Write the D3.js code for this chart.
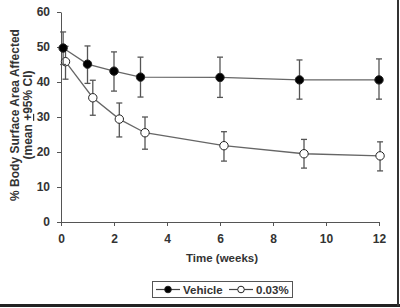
<!DOCTYPE html>
<html>
<head>
<meta charset="utf-8">
<script src="https://cdn.jsdelivr.net/npm/d3@7"></script>
<style>
  body { margin: 0; background: #fff; }
  svg { display: block; font-family: "Liberation Sans", Arial, sans-serif; }
  .axis text { font-weight: bold; font-size: 12px; fill: #333; }
  .axis path, .axis line { stroke: #555; }
</style>
</head>
<body>
<div id="chart"></div>
<script>
// values
const vehicleWeeks = [0.08, 1, 2, 3, 6, 9, 12];
const vehicleMean  = [49.7, 45.1, 43.1, 41.4, 41.3, 40.6, 40.6];
const vehicleHi    = [54.3, 50.3, 48.6, 47.1, 47.1, 46.3, 46.6];
const vehicleLo    = [45.0, 39.6, 37.4, 35.7, 35.6, 35.1, 35.1];

const treatWeeks = [0.17, 1.2, 2.2, 3.17, 6.15, 9.17, 12.04];
const treatMean  = [45.8, 35.5, 29.4, 25.5, 21.8, 19.5, 18.9];
const treatHi    = [50.2, 40.5, 34.0, 30.0, 25.8, 23.6, 22.9];
const treatLo    = [40.8, 30.5, 24.3, 20.8, 17.4, 15.4, 14.6];

const xTicks = [0, 2, 4, 6, 8, 10, 12];
const yTicks = [0, 10, 20, 30, 40, 50, 60];

const W = 400, H = 308;
let margin = {top: 12, left: 61, right: 21, bottom: 86};

let svg = d3.select("#chart").append("svg")
  .attr("width", W).attr("height", H);

let x = d3.scaleLinear().domain([0, 12]).range([margin.left, W - margin.right]);
let y = d3.scaleLinear().domain([0, 60]).range([H - margin.bottom, margin.top]);

// axes
svg.append("g")
  .attr("class", "axis")
  .attr("transform", "translate(0," + y(0) + ")")
  .call(d3.axisBottom(x).tickValues(xTicks).tickSize(4).tickSizeOuter(0).tickPadding(8));

svg.append("g")
  .attr("class", "axis")
  .attr("transform", "translate(" + x(0) + ",0)")
  .call(d3.axisLeft(y).tickValues(yTicks).tickSize(4).tickSizeOuter(0).tickPadding(7));

// axis titles
svg.append("text")
  .attr("x", 222).attr("y", 262)
  .attr("text-anchor", "middle")
  .style("font-weight", "bold").style("font-size", "11.5px").style("fill", "#333")
  .text("Time (weeks)");

let yl = svg.append("text")
  .attr("transform", "translate(19,115) rotate(-90)")
  .attr("text-anchor", "middle")
  .style("font-weight", "bold").style("font-size", "12px").style("fill", "#333");
yl.append("tspan").attr("x", 0).attr("dy", 0).text("% Body Surface Area Affected");
let l2 = yl.append("tspan").attr("x", 0).attr("dy", 13);
l2.append("tspan").text("(mean ");
l2.append("tspan").style("text-decoration", "underline").text("+");
l2.append("tspan").text("95% CI)");

function drawSeries(weeks, mean, lo, hi, fill) {
  let d = weeks.map((w, i) => ({w: w, m: mean[i], lo: lo[i], hi: hi[i]}));
  let g = svg.append("g");
  // error bars
  let eb = g.selectAll(".eb").data(d).enter().append("g");
  eb.append("line")
    .attr("x1", p => x(p.w)).attr("x2", p => x(p.w))
    .attr("y1", p => y(p.lo)).attr("y2", p => y(p.hi))
    .attr("stroke", "#555").attr("stroke-width", 1.3);
  eb.append("line")
    .attr("x1", p => x(p.w) - 3).attr("x2", p => x(p.w) + 3)
    .attr("y1", p => y(p.hi)).attr("y2", p => y(p.hi))
    .attr("stroke", "#555").attr("stroke-width", 1.3);
  eb.append("line")
    .attr("x1", p => x(p.w) - 3).attr("x2", p => x(p.w) + 3)
    .attr("y1", p => y(p.lo)).attr("y2", p => y(p.lo))
    .attr("stroke", "#555").attr("stroke-width", 1.3);
  // line
  g.append("path")
    .datum(d)
    .attr("fill", "none")
    .attr("stroke", "#666")
    .attr("stroke-width", 1.3)
    .attr("d", d3.line().x(p => x(p.w)).y(p => y(p.m)));
  // markers
  g.selectAll("circle").data(d).enter().append("circle")
    .attr("cx", p => x(p.w)).attr("cy", p => y(p.m))
    .attr("r", 4.2)
    .attr("fill", fill)
    .attr("stroke", "#222").attr("stroke-width", 1);
}

drawSeries(treatWeeks, treatMean, treatLo, treatHi, "#fff");
drawSeries(vehicleWeeks, vehicleMean, vehicleLo, vehicleHi, "#000");

// legend
let lg = svg.append("g");
lg.append("rect")
  .attr("x", 152.5).attr("y", 281.5).attr("width", 140).attr("height", 16)
  .attr("fill", "#fff").attr("stroke", "#555").attr("stroke-width", 1);
let items = [
  {label: "Vehicle", fill: "#000", x0: 156},
  {label: "0.03%", fill: "#fff", x0: 229}
];
items.forEach(it => {
  lg.append("line").attr("x1", it.x0).attr("x2", it.x0 + 24)
    .attr("y1", 289.5).attr("y2", 289.5).attr("stroke", "#444").attr("stroke-width", 1.2);
  lg.append("circle").attr("cx", it.x0 + 12).attr("cy", 289.5).attr("r", 3.3)
    .attr("fill", it.fill).attr("stroke", "#222");
  lg.append("text").attr("x", it.x0 + 27).attr("y", 293.5)
    .style("font-weight", "bold").style("font-size", "11.5px").style("fill", "#333")
    .text(it.label);
});

// frame edges
svg.append("rect").attr("x", 0).attr("y", 304).attr("width", W).attr("height", 3).attr("fill", "#222");
svg.append("rect").attr("x", 397).attr("y", 0).attr("width", 2).attr("height", 306).attr("fill", "#333");
</script>
</body>
</html>
